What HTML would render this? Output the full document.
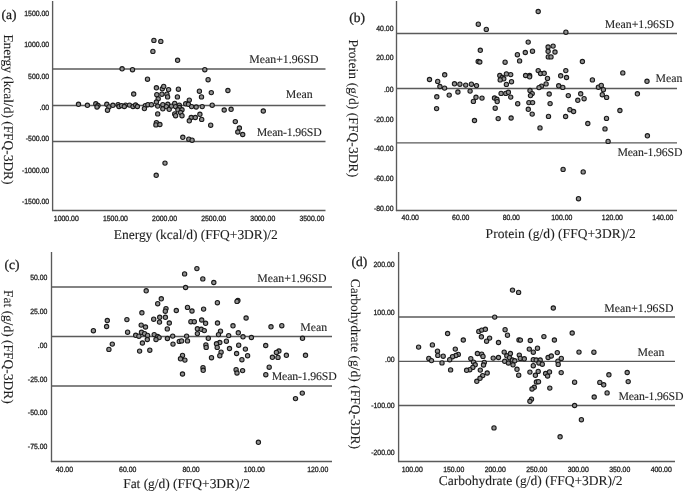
<!DOCTYPE html>
<html><head><meta charset="utf-8"><style>
html,body{margin:0;padding:0;background:#fff;}
svg{display:block;will-change:transform;}
text{text-rendering:geometricPrecision;stroke:#1e1e1e;stroke-width:0.1px;}
text.k{stroke-width:0.3px;}
text.g{stroke-width:0.3px;}
circle{fill:#929292;stroke:#1a1a1a;stroke-width:1.1;}
</style></head><body>
<svg width="685" height="491" viewBox="0 0 685 491">
<rect width="685" height="491" fill="#fff"/>
<line x1="52.6" y1="1" x2="52.6" y2="211.1" stroke="#5a5a5a" stroke-width="1.35"/>
<line x1="52.0" y1="210.5" x2="325.5" y2="210.5" stroke="#5a5a5a" stroke-width="1.35"/>
<line x1="52.6" y1="69.0" x2="325.5" y2="69.0" stroke="#5a5a5a" stroke-width="1.35"/>
<line x1="52.6" y1="105.5" x2="325.5" y2="105.5" stroke="#5a5a5a" stroke-width="1.35"/>
<line x1="52.6" y1="141.5" x2="325.5" y2="141.5" stroke="#5a5a5a" stroke-width="1.35"/>
<text x="249.3" y="63.2" font-size="11.8" font-family='"Liberation Serif", serif' text-anchor="start" fill="#1e1e1e" >Mean+1.96SD</text>
<text x="285.7" y="98.4" font-size="11.8" font-family='"Liberation Serif", serif' text-anchor="start" fill="#1e1e1e" >Mean</text>
<text x="256.7" y="135.7" font-size="11.8" font-family='"Liberation Serif", serif' fill="#1e1e1e" textLength="65.1">Mean-1.96SD</text>
<text x="49.2" y="15.9" font-size="7.5" font-family='"Liberation Sans", sans-serif' text-anchor="end" fill="#1e1e1e"  textLength="24.92" lengthAdjust="spacingAndGlyphs" class="k">1500.00</text>
<text x="49.2" y="47.4" font-size="7.5" font-family='"Liberation Sans", sans-serif' text-anchor="end" fill="#1e1e1e"  textLength="24.92" lengthAdjust="spacingAndGlyphs" class="k">1000.00</text>
<text x="49.2" y="78.69999999999999" font-size="7.5" font-family='"Liberation Sans", sans-serif' text-anchor="end" fill="#1e1e1e"  textLength="21.08" lengthAdjust="spacingAndGlyphs" class="k">500.00</text>
<text x="49.2" y="109.89999999999999" font-size="7.5" font-family='"Liberation Sans", sans-serif' text-anchor="end" fill="#1e1e1e"  textLength="9.58" lengthAdjust="spacingAndGlyphs" class="k">.00</text>
<text x="49.2" y="141.2" font-size="7.5" font-family='"Liberation Sans", sans-serif' text-anchor="end" fill="#1e1e1e"  textLength="23.38" lengthAdjust="spacingAndGlyphs" class="k">-500.00</text>
<text x="49.2" y="172.6" font-size="7.5" font-family='"Liberation Sans", sans-serif' text-anchor="end" fill="#1e1e1e"  textLength="27.21" lengthAdjust="spacingAndGlyphs" class="k">-1000.00</text>
<text x="49.2" y="204.1" font-size="7.5" font-family='"Liberation Sans", sans-serif' text-anchor="end" fill="#1e1e1e"  textLength="27.21" lengthAdjust="spacingAndGlyphs" class="k">-1500.00</text>
<text x="66.3" y="220.70000000000002" font-size="7.5" font-family='"Liberation Sans", sans-serif' text-anchor="middle" fill="#1e1e1e"  textLength="24.92" lengthAdjust="spacingAndGlyphs" class="k">1000.00</text>
<text x="115.42" y="220.70000000000002" font-size="7.5" font-family='"Liberation Sans", sans-serif' text-anchor="middle" fill="#1e1e1e"  textLength="24.92" lengthAdjust="spacingAndGlyphs" class="k">1500.00</text>
<text x="164.54" y="220.70000000000002" font-size="7.5" font-family='"Liberation Sans", sans-serif' text-anchor="middle" fill="#1e1e1e"  textLength="24.92" lengthAdjust="spacingAndGlyphs" class="k">2000.00</text>
<text x="213.66" y="220.70000000000002" font-size="7.5" font-family='"Liberation Sans", sans-serif' text-anchor="middle" fill="#1e1e1e"  textLength="24.92" lengthAdjust="spacingAndGlyphs" class="k">2500.00</text>
<text x="262.78" y="220.70000000000002" font-size="7.5" font-family='"Liberation Sans", sans-serif' text-anchor="middle" fill="#1e1e1e"  textLength="24.92" lengthAdjust="spacingAndGlyphs" class="k">3000.00</text>
<text x="311.9" y="220.70000000000002" font-size="7.5" font-family='"Liberation Sans", sans-serif' text-anchor="middle" fill="#1e1e1e"  textLength="24.92" lengthAdjust="spacingAndGlyphs" class="k">3500.00</text>
<text x="1.5" y="19.2" font-size="13.5" font-family='"Liberation Serif", serif' text-anchor="start" fill="#1e1e1e"  class="g">(a)</text>
<text transform="translate(3.6,34.4) rotate(90)" font-size="13.5" font-family='"Liberation Serif", serif' fill="#1e1e1e" textLength="150.2">Energy (kcal/d) (FFQ-3DR)</text>
<text x="113.8" y="238.6" font-size="13.5" font-family='"Liberation Serif", serif' fill="#1e1e1e" textLength="163.9">Energy (kcal/d) (FFQ+3DR)/2</text>
<line x1="396.5" y1="1" x2="396.5" y2="211.1" stroke="#5a5a5a" stroke-width="1.35"/>
<line x1="395.9" y1="210.5" x2="677" y2="210.5" stroke="#5a5a5a" stroke-width="1.35"/>
<line x1="396.5" y1="33.5" x2="677" y2="33.5" stroke="#5a5a5a" stroke-width="1.35"/>
<line x1="396.5" y1="88.5" x2="677" y2="88.5" stroke="#5a5a5a" stroke-width="1.35"/>
<line x1="396.5" y1="142.9" x2="677" y2="142.9" stroke="#5a5a5a" stroke-width="1.35"/>
<text x="604.8" y="27.9" font-size="11.8" font-family='"Liberation Serif", serif' text-anchor="start" fill="#1e1e1e" >Mean+1.96SD</text>
<text x="655.5" y="82.3" font-size="11.8" font-family='"Liberation Serif", serif' text-anchor="start" fill="#1e1e1e" >Mean</text>
<text x="617.4" y="155.5" font-size="11.8" font-family='"Liberation Serif", serif' fill="#1e1e1e" textLength="65.1">Mean-1.96SD</text>
<text x="393.5" y="31.0" font-size="7.5" font-family='"Liberation Sans", sans-serif' text-anchor="end" fill="#1e1e1e"  textLength="17.25" lengthAdjust="spacingAndGlyphs" class="k">40.00</text>
<text x="393.5" y="60.300000000000004" font-size="7.5" font-family='"Liberation Sans", sans-serif' text-anchor="end" fill="#1e1e1e"  textLength="17.25" lengthAdjust="spacingAndGlyphs" class="k">20.00</text>
<text x="393.5" y="91.69999999999999" font-size="7.5" font-family='"Liberation Sans", sans-serif' text-anchor="end" fill="#1e1e1e"  textLength="9.58" lengthAdjust="spacingAndGlyphs" class="k">.00</text>
<text x="393.5" y="121.6" font-size="7.5" font-family='"Liberation Sans", sans-serif' text-anchor="end" fill="#1e1e1e"  textLength="19.55" lengthAdjust="spacingAndGlyphs" class="k">-20.00</text>
<text x="393.5" y="150.7" font-size="7.5" font-family='"Liberation Sans", sans-serif' text-anchor="end" fill="#1e1e1e"  textLength="19.55" lengthAdjust="spacingAndGlyphs" class="k">-40.00</text>
<text x="393.5" y="181.0" font-size="7.5" font-family='"Liberation Sans", sans-serif' text-anchor="end" fill="#1e1e1e"  textLength="19.55" lengthAdjust="spacingAndGlyphs" class="k">-60.00</text>
<text x="393.5" y="211.0" font-size="7.5" font-family='"Liberation Sans", sans-serif' text-anchor="end" fill="#1e1e1e"  textLength="19.55" lengthAdjust="spacingAndGlyphs" class="k">-80.00</text>
<text x="410.2" y="220.4" font-size="7.5" font-family='"Liberation Sans", sans-serif' text-anchor="middle" fill="#1e1e1e"  textLength="17.25" lengthAdjust="spacingAndGlyphs" class="k">40.00</text>
<text x="460.74" y="220.4" font-size="7.5" font-family='"Liberation Sans", sans-serif' text-anchor="middle" fill="#1e1e1e"  textLength="17.25" lengthAdjust="spacingAndGlyphs" class="k">60.00</text>
<text x="511.28" y="220.4" font-size="7.5" font-family='"Liberation Sans", sans-serif' text-anchor="middle" fill="#1e1e1e"  textLength="17.25" lengthAdjust="spacingAndGlyphs" class="k">80.00</text>
<text x="561.82" y="220.4" font-size="7.5" font-family='"Liberation Sans", sans-serif' text-anchor="middle" fill="#1e1e1e"  textLength="21.08" lengthAdjust="spacingAndGlyphs" class="k">100.00</text>
<text x="612.36" y="220.4" font-size="7.5" font-family='"Liberation Sans", sans-serif' text-anchor="middle" fill="#1e1e1e"  textLength="21.08" lengthAdjust="spacingAndGlyphs" class="k">120.00</text>
<text x="662.9" y="220.4" font-size="7.5" font-family='"Liberation Sans", sans-serif' text-anchor="middle" fill="#1e1e1e"  textLength="21.08" lengthAdjust="spacingAndGlyphs" class="k">140.00</text>
<text x="349.2" y="22.0" font-size="13.5" font-family='"Liberation Serif", serif' text-anchor="start" fill="#1e1e1e"  class="g">(b)</text>
<text transform="translate(349.4,39.6) rotate(90)" font-size="13.5" font-family='"Liberation Serif", serif' fill="#1e1e1e" textLength="137.6">Protein (g/d) (FFQ-3DR)</text>
<text x="485.6" y="237.5" font-size="13.5" font-family='"Liberation Serif", serif' fill="#1e1e1e" textLength="150.2">Protein (g/d) (FFQ+3DR)/2</text>
<line x1="51.5" y1="252" x2="51.5" y2="462.1" stroke="#5a5a5a" stroke-width="1.35"/>
<line x1="50.9" y1="461.5" x2="332" y2="461.5" stroke="#5a5a5a" stroke-width="1.35"/>
<line x1="51.5" y1="287.0" x2="332" y2="287.0" stroke="#5a5a5a" stroke-width="1.35"/>
<line x1="51.5" y1="336.5" x2="332" y2="336.5" stroke="#5a5a5a" stroke-width="1.35"/>
<line x1="51.5" y1="386.0" x2="332" y2="386.0" stroke="#5a5a5a" stroke-width="1.35"/>
<text x="257.3" y="281.5" font-size="11.8" font-family='"Liberation Serif", serif' text-anchor="start" fill="#1e1e1e" >Mean+1.96SD</text>
<text x="300.2" y="330.7" font-size="11.8" font-family='"Liberation Serif", serif' text-anchor="start" fill="#1e1e1e" >Mean</text>
<text x="271.7" y="379.7" font-size="11.8" font-family='"Liberation Serif", serif' fill="#1e1e1e" textLength="65.1">Mean-1.96SD</text>
<text x="47.4" y="280.20000000000005" font-size="7.5" font-family='"Liberation Sans", sans-serif' text-anchor="end" fill="#1e1e1e"  textLength="17.25" lengthAdjust="spacingAndGlyphs" class="k">50.00</text>
<text x="47.4" y="314.3" font-size="7.5" font-family='"Liberation Sans", sans-serif' text-anchor="end" fill="#1e1e1e"  textLength="17.25" lengthAdjust="spacingAndGlyphs" class="k">25.00</text>
<text x="47.4" y="347.70000000000005" font-size="7.5" font-family='"Liberation Sans", sans-serif' text-anchor="end" fill="#1e1e1e"  textLength="9.58" lengthAdjust="spacingAndGlyphs" class="k">.00</text>
<text x="47.4" y="381.70000000000005" font-size="7.5" font-family='"Liberation Sans", sans-serif' text-anchor="end" fill="#1e1e1e"  textLength="19.55" lengthAdjust="spacingAndGlyphs" class="k">-25.00</text>
<text x="47.4" y="414.70000000000005" font-size="7.5" font-family='"Liberation Sans", sans-serif' text-anchor="end" fill="#1e1e1e"  textLength="19.55" lengthAdjust="spacingAndGlyphs" class="k">-50.00</text>
<text x="47.4" y="448.8" font-size="7.5" font-family='"Liberation Sans", sans-serif' text-anchor="end" fill="#1e1e1e"  textLength="19.55" lengthAdjust="spacingAndGlyphs" class="k">-75.00</text>
<text x="64.4" y="472.2" font-size="7.5" font-family='"Liberation Sans", sans-serif' text-anchor="middle" fill="#1e1e1e"  textLength="17.25" lengthAdjust="spacingAndGlyphs" class="k">40.00</text>
<text x="127.73" y="472.2" font-size="7.5" font-family='"Liberation Sans", sans-serif' text-anchor="middle" fill="#1e1e1e"  textLength="17.25" lengthAdjust="spacingAndGlyphs" class="k">60.00</text>
<text x="191.06" y="472.2" font-size="7.5" font-family='"Liberation Sans", sans-serif' text-anchor="middle" fill="#1e1e1e"  textLength="17.25" lengthAdjust="spacingAndGlyphs" class="k">80.00</text>
<text x="254.39" y="472.2" font-size="7.5" font-family='"Liberation Sans", sans-serif' text-anchor="middle" fill="#1e1e1e"  textLength="21.08" lengthAdjust="spacingAndGlyphs" class="k">100.00</text>
<text x="317.72" y="472.2" font-size="7.5" font-family='"Liberation Sans", sans-serif' text-anchor="middle" fill="#1e1e1e"  textLength="21.08" lengthAdjust="spacingAndGlyphs" class="k">120.00</text>
<text x="4.6" y="268.8" font-size="13.5" font-family='"Liberation Serif", serif' text-anchor="start" fill="#1e1e1e"  class="g">(c)</text>
<text transform="translate(4.3,290.1) rotate(90)" font-size="13.5" font-family='"Liberation Serif", serif' fill="#1e1e1e" textLength="113.6">Fat (g/d) (FFQ-3DR)</text>
<text x="123.2" y="487.7" font-size="13.5" font-family='"Liberation Serif", serif' fill="#1e1e1e" textLength="126.7">Fat (g/d) (FFQ+3DR)/2</text>
<line x1="398.6" y1="252" x2="398.6" y2="462.1" stroke="#5a5a5a" stroke-width="1.35"/>
<line x1="398.0" y1="461.5" x2="675" y2="461.5" stroke="#5a5a5a" stroke-width="1.35"/>
<line x1="398.6" y1="317.0" x2="675" y2="317.0" stroke="#5a5a5a" stroke-width="1.35"/>
<line x1="398.6" y1="361.3" x2="675" y2="361.3" stroke="#5a5a5a" stroke-width="1.35"/>
<line x1="398.6" y1="405.5" x2="675" y2="405.5" stroke="#5a5a5a" stroke-width="1.35"/>
<text x="604.3" y="311.9" font-size="11.8" font-family='"Liberation Serif", serif' text-anchor="start" fill="#1e1e1e" >Mean+1.96SD</text>
<text x="637.6" y="355.7" font-size="11.8" font-family='"Liberation Serif", serif' text-anchor="start" fill="#1e1e1e" >Mean</text>
<text x="618.4" y="399.7" font-size="11.8" font-family='"Liberation Serif", serif' fill="#1e1e1e" textLength="65.1">Mean-1.96SD</text>
<text x="394.6" y="266.90000000000003" font-size="7.5" font-family='"Liberation Sans", sans-serif' text-anchor="end" fill="#1e1e1e"  textLength="21.08" lengthAdjust="spacingAndGlyphs" class="k">200.00</text>
<text x="394.6" y="314.5" font-size="7.5" font-family='"Liberation Sans", sans-serif' text-anchor="end" fill="#1e1e1e"  textLength="21.08" lengthAdjust="spacingAndGlyphs" class="k">100.00</text>
<text x="394.6" y="361.5" font-size="7.5" font-family='"Liberation Sans", sans-serif' text-anchor="end" fill="#1e1e1e"  textLength="9.58" lengthAdjust="spacingAndGlyphs" class="k">.00</text>
<text x="394.6" y="408.0" font-size="7.5" font-family='"Liberation Sans", sans-serif' text-anchor="end" fill="#1e1e1e"  textLength="23.38" lengthAdjust="spacingAndGlyphs" class="k">-100.00</text>
<text x="394.6" y="454.90000000000003" font-size="7.5" font-family='"Liberation Sans", sans-serif' text-anchor="end" fill="#1e1e1e"  textLength="23.38" lengthAdjust="spacingAndGlyphs" class="k">-200.00</text>
<text x="412.25" y="472.0" font-size="7.5" font-family='"Liberation Sans", sans-serif' text-anchor="middle" fill="#1e1e1e"  textLength="21.08" lengthAdjust="spacingAndGlyphs" class="k">100.00</text>
<text x="453.75" y="472.0" font-size="7.5" font-family='"Liberation Sans", sans-serif' text-anchor="middle" fill="#1e1e1e"  textLength="21.08" lengthAdjust="spacingAndGlyphs" class="k">150.00</text>
<text x="495.25" y="472.0" font-size="7.5" font-family='"Liberation Sans", sans-serif' text-anchor="middle" fill="#1e1e1e"  textLength="21.08" lengthAdjust="spacingAndGlyphs" class="k">200.00</text>
<text x="536.75" y="472.0" font-size="7.5" font-family='"Liberation Sans", sans-serif' text-anchor="middle" fill="#1e1e1e"  textLength="21.08" lengthAdjust="spacingAndGlyphs" class="k">250.00</text>
<text x="578.25" y="472.0" font-size="7.5" font-family='"Liberation Sans", sans-serif' text-anchor="middle" fill="#1e1e1e"  textLength="21.08" lengthAdjust="spacingAndGlyphs" class="k">300.00</text>
<text x="619.75" y="472.0" font-size="7.5" font-family='"Liberation Sans", sans-serif' text-anchor="middle" fill="#1e1e1e"  textLength="21.08" lengthAdjust="spacingAndGlyphs" class="k">350.00</text>
<text x="661.25" y="472.0" font-size="7.5" font-family='"Liberation Sans", sans-serif' text-anchor="middle" fill="#1e1e1e"  textLength="21.08" lengthAdjust="spacingAndGlyphs" class="k">400.00</text>
<text x="351.6" y="266.2" font-size="13.5" font-family='"Liberation Serif", serif' text-anchor="start" fill="#1e1e1e"  class="g">(d)</text>
<text transform="translate(351,278.7) rotate(90)" font-size="13.5" font-family='"Liberation Serif", serif' fill="#1e1e1e" textLength="170.2">Carbohydrate (g/d) (FFQ-3DR)</text>
<text x="438.8" y="485.3" font-size="13.5" font-family='"Liberation Serif", serif' fill="#1e1e1e" textLength="183.8">Carbohydrate (g/d) (FFQ+3DR)/2</text>
<circle cx="78.5" cy="104.3" r="2.15"/>
<circle cx="87.4" cy="105.3" r="2.15"/>
<circle cx="95.8" cy="103.8" r="2.15"/>
<circle cx="98" cy="105.5" r="2.15"/>
<circle cx="97" cy="107" r="2.15"/>
<circle cx="106.8" cy="104.3" r="2.15"/>
<circle cx="108.9" cy="106.9" r="2.15"/>
<circle cx="107.5" cy="110.2" r="2.15"/>
<circle cx="112.9" cy="105.3" r="2.15"/>
<circle cx="118.1" cy="104.7" r="2.15"/>
<circle cx="119" cy="106.5" r="2.15"/>
<circle cx="121.6" cy="105.6" r="2.15"/>
<circle cx="125.6" cy="105.1" r="2.15"/>
<circle cx="124.3" cy="106.5" r="2.15"/>
<circle cx="129.5" cy="105.1" r="2.15"/>
<circle cx="133" cy="106.5" r="2.15"/>
<circle cx="135.6" cy="105" r="2.15"/>
<circle cx="137.4" cy="106.5" r="2.15"/>
<circle cx="133.7" cy="94" r="2.15"/>
<circle cx="145.3" cy="105.6" r="2.15"/>
<circle cx="144.4" cy="108.6" r="2.15"/>
<circle cx="147.9" cy="104.7" r="2.15"/>
<circle cx="151.4" cy="104.7" r="2.15"/>
<circle cx="156.4" cy="87.8" r="2.15"/>
<circle cx="162.3" cy="88.7" r="2.15"/>
<circle cx="163.7" cy="86.4" r="2.15"/>
<circle cx="168.6" cy="89.6" r="2.15"/>
<circle cx="178.4" cy="89.2" r="2.15"/>
<circle cx="199.4" cy="91.2" r="2.15"/>
<circle cx="211.3" cy="92.6" r="2.15"/>
<circle cx="156.8" cy="94.7" r="2.15"/>
<circle cx="161.9" cy="94.2" r="2.15"/>
<circle cx="166.9" cy="94.2" r="2.15"/>
<circle cx="167.6" cy="96.9" r="2.15"/>
<circle cx="177.4" cy="96.9" r="2.15"/>
<circle cx="158.2" cy="98.8" r="2.15"/>
<circle cx="156.4" cy="102" r="2.15"/>
<circle cx="201.5" cy="96.9" r="2.15"/>
<circle cx="189.3" cy="100.1" r="2.15"/>
<circle cx="157.7" cy="106.1" r="2.15"/>
<circle cx="162.8" cy="104.7" r="2.15"/>
<circle cx="162.8" cy="108.8" r="2.15"/>
<circle cx="167.8" cy="104.3" r="2.15"/>
<circle cx="166.4" cy="106.6" r="2.15"/>
<circle cx="169.2" cy="109.3" r="2.15"/>
<circle cx="171.5" cy="106.1" r="2.15"/>
<circle cx="174.7" cy="103.4" r="2.15"/>
<circle cx="175.6" cy="106.6" r="2.15"/>
<circle cx="179.3" cy="105.2" r="2.15"/>
<circle cx="179.5" cy="107.5" r="2.15"/>
<circle cx="177.9" cy="109.8" r="2.15"/>
<circle cx="182" cy="109.8" r="2.15"/>
<circle cx="180.6" cy="112.5" r="2.15"/>
<circle cx="174.7" cy="113.9" r="2.15"/>
<circle cx="175.6" cy="115.7" r="2.15"/>
<circle cx="182" cy="115.7" r="2.15"/>
<circle cx="185.7" cy="103.8" r="2.15"/>
<circle cx="188.4" cy="104.3" r="2.15"/>
<circle cx="191.6" cy="106.6" r="2.15"/>
<circle cx="196.2" cy="107" r="2.15"/>
<circle cx="202.2" cy="106.6" r="2.15"/>
<circle cx="212.2" cy="105.2" r="2.15"/>
<circle cx="157.7" cy="113.9" r="2.15"/>
<circle cx="191.2" cy="117.5" r="2.15"/>
<circle cx="195.3" cy="117.5" r="2.15"/>
<circle cx="199.9" cy="114.3" r="2.15"/>
<circle cx="201.7" cy="119.4" r="2.15"/>
<circle cx="189.3" cy="120.8" r="2.15"/>
<circle cx="156.4" cy="122.7" r="2.15"/>
<circle cx="155.9" cy="124.9" r="2.15"/>
<circle cx="159.9" cy="124.5" r="2.15"/>
<circle cx="210.7" cy="125.2" r="2.15"/>
<circle cx="153.9" cy="40.4" r="2.15"/>
<circle cx="160.8" cy="41.4" r="2.15"/>
<circle cx="152.9" cy="51.4" r="2.15"/>
<circle cx="122.1" cy="68.8" r="2.15"/>
<circle cx="132.5" cy="69.7" r="2.15"/>
<circle cx="147.5" cy="79.2" r="2.15"/>
<circle cx="177.6" cy="60.3" r="2.15"/>
<circle cx="204.8" cy="69.7" r="2.15"/>
<circle cx="208.1" cy="79.7" r="2.15"/>
<circle cx="227.9" cy="90.5" r="2.15"/>
<circle cx="224.2" cy="110" r="2.15"/>
<circle cx="231.1" cy="109.3" r="2.15"/>
<circle cx="263.3" cy="111" r="2.15"/>
<circle cx="235.3" cy="121.6" r="2.15"/>
<circle cx="239.4" cy="128" r="2.15"/>
<circle cx="237.8" cy="132" r="2.15"/>
<circle cx="242.7" cy="134.5" r="2.15"/>
<circle cx="182.8" cy="137.3" r="2.15"/>
<circle cx="188.8" cy="139.2" r="2.15"/>
<circle cx="192.1" cy="140.2" r="2.15"/>
<circle cx="165" cy="163.1" r="2.15"/>
<circle cx="156.2" cy="175.3" r="2.15"/>
<circle cx="538.2" cy="11.5" r="2.15"/>
<circle cx="478.3" cy="24.2" r="2.15"/>
<circle cx="486.3" cy="29.4" r="2.15"/>
<circle cx="528.2" cy="42.1" r="2.15"/>
<circle cx="480.3" cy="50.3" r="2.15"/>
<circle cx="548.1" cy="47" r="2.15"/>
<circle cx="553.1" cy="46.1" r="2.15"/>
<circle cx="548.1" cy="51.3" r="2.15"/>
<circle cx="555" cy="52" r="2.15"/>
<circle cx="532.5" cy="51.2" r="2.15"/>
<circle cx="525.3" cy="52.5" r="2.15"/>
<circle cx="517.4" cy="54.7" r="2.15"/>
<circle cx="519.6" cy="60.9" r="2.15"/>
<circle cx="548.3" cy="56.9" r="2.15"/>
<circle cx="551" cy="56.9" r="2.15"/>
<circle cx="478.2" cy="61.5" r="2.15"/>
<circle cx="479.8" cy="62" r="2.15"/>
<circle cx="505.1" cy="62.2" r="2.15"/>
<circle cx="565.9" cy="32.2" r="2.15"/>
<circle cx="582.4" cy="61.5" r="2.15"/>
<circle cx="444.7" cy="74.8" r="2.15"/>
<circle cx="429.5" cy="79.5" r="2.15"/>
<circle cx="437.7" cy="81.4" r="2.15"/>
<circle cx="439.9" cy="86.5" r="2.15"/>
<circle cx="444.6" cy="88.1" r="2.15"/>
<circle cx="454.5" cy="83.8" r="2.15"/>
<circle cx="459.9" cy="84.2" r="2.15"/>
<circle cx="465.7" cy="85.1" r="2.15"/>
<circle cx="471.4" cy="84.2" r="2.15"/>
<circle cx="476.5" cy="85.6" r="2.15"/>
<circle cx="457.9" cy="92" r="2.15"/>
<circle cx="470.1" cy="91.1" r="2.15"/>
<circle cx="449.2" cy="95.1" r="2.15"/>
<circle cx="436.8" cy="96.8" r="2.15"/>
<circle cx="476" cy="97.3" r="2.15"/>
<circle cx="482" cy="98.1" r="2.15"/>
<circle cx="473.4" cy="101.4" r="2.15"/>
<circle cx="436.6" cy="108.6" r="2.15"/>
<circle cx="474.5" cy="120.5" r="2.15"/>
<circle cx="499.8" cy="75.5" r="2.15"/>
<circle cx="506.4" cy="73.9" r="2.15"/>
<circle cx="510.7" cy="74.6" r="2.15"/>
<circle cx="502.2" cy="77.5" r="2.15"/>
<circle cx="503.8" cy="78.8" r="2.15"/>
<circle cx="500.2" cy="79.9" r="2.15"/>
<circle cx="511.5" cy="81.7" r="2.15"/>
<circle cx="506.4" cy="84.4" r="2.15"/>
<circle cx="525.6" cy="75.5" r="2.15"/>
<circle cx="529.6" cy="75.5" r="2.15"/>
<circle cx="529.6" cy="76.8" r="2.15"/>
<circle cx="538.2" cy="70.6" r="2.15"/>
<circle cx="540.6" cy="73.5" r="2.15"/>
<circle cx="544.2" cy="73.3" r="2.15"/>
<circle cx="547.5" cy="78.4" r="2.15"/>
<circle cx="546.1" cy="83.9" r="2.15"/>
<circle cx="541.5" cy="86.1" r="2.15"/>
<circle cx="539" cy="87.6" r="2.15"/>
<circle cx="558.7" cy="85.8" r="2.15"/>
<circle cx="562.8" cy="87.4" r="2.15"/>
<circle cx="560.7" cy="75.8" r="2.15"/>
<circle cx="565.8" cy="70.6" r="2.15"/>
<circle cx="566.5" cy="77.5" r="2.15"/>
<circle cx="501.1" cy="93.4" r="2.15"/>
<circle cx="505.8" cy="93.4" r="2.15"/>
<circle cx="508.4" cy="92.3" r="2.15"/>
<circle cx="510.7" cy="97.1" r="2.15"/>
<circle cx="494.5" cy="98" r="2.15"/>
<circle cx="496.9" cy="99.3" r="2.15"/>
<circle cx="497.2" cy="101.6" r="2.15"/>
<circle cx="495.2" cy="108.2" r="2.15"/>
<circle cx="517.7" cy="103.7" r="2.15"/>
<circle cx="530" cy="90.5" r="2.15"/>
<circle cx="532.2" cy="93.6" r="2.15"/>
<circle cx="530.5" cy="95.6" r="2.15"/>
<circle cx="528.9" cy="102.6" r="2.15"/>
<circle cx="532.6" cy="102.6" r="2.15"/>
<circle cx="528.3" cy="109.3" r="2.15"/>
<circle cx="532.2" cy="114.1" r="2.15"/>
<circle cx="549.2" cy="94" r="2.15"/>
<circle cx="550.1" cy="103.6" r="2.15"/>
<circle cx="548.5" cy="116.4" r="2.15"/>
<circle cx="498.2" cy="118.6" r="2.15"/>
<circle cx="511.1" cy="118" r="2.15"/>
<circle cx="565.6" cy="116.5" r="2.15"/>
<circle cx="592.4" cy="79.9" r="2.15"/>
<circle cx="622.8" cy="72.9" r="2.15"/>
<circle cx="647" cy="81.3" r="2.15"/>
<circle cx="598.4" cy="87.2" r="2.15"/>
<circle cx="601.3" cy="85.4" r="2.15"/>
<circle cx="603.4" cy="89.7" r="2.15"/>
<circle cx="580.7" cy="93.8" r="2.15"/>
<circle cx="568.3" cy="95.6" r="2.15"/>
<circle cx="577.8" cy="100.3" r="2.15"/>
<circle cx="584.1" cy="98.7" r="2.15"/>
<circle cx="602.3" cy="94.7" r="2.15"/>
<circle cx="606.6" cy="97.4" r="2.15"/>
<circle cx="637.4" cy="93.8" r="2.15"/>
<circle cx="569.9" cy="109.7" r="2.15"/>
<circle cx="573.6" cy="111.5" r="2.15"/>
<circle cx="619.9" cy="110.5" r="2.15"/>
<circle cx="606.5" cy="118.4" r="2.15"/>
<circle cx="540" cy="127.9" r="2.15"/>
<circle cx="587.8" cy="123.5" r="2.15"/>
<circle cx="605" cy="128.9" r="2.15"/>
<circle cx="608.1" cy="141.4" r="2.15"/>
<circle cx="647.4" cy="135.8" r="2.15"/>
<circle cx="563.1" cy="169.4" r="2.15"/>
<circle cx="583.2" cy="171.9" r="2.15"/>
<circle cx="578.5" cy="198.7" r="2.15"/>
<circle cx="93.4" cy="330.7" r="2.15"/>
<circle cx="107.3" cy="320.5" r="2.15"/>
<circle cx="106.6" cy="326.5" r="2.15"/>
<circle cx="126.9" cy="319.6" r="2.15"/>
<circle cx="127.6" cy="332.2" r="2.15"/>
<circle cx="112.3" cy="344.1" r="2.15"/>
<circle cx="108.9" cy="349.4" r="2.15"/>
<circle cx="196.9" cy="268.6" r="2.15"/>
<circle cx="184.6" cy="273.9" r="2.15"/>
<circle cx="185.6" cy="287.5" r="2.15"/>
<circle cx="146.2" cy="290.8" r="2.15"/>
<circle cx="161.3" cy="298.8" r="2.15"/>
<circle cx="157.7" cy="303.7" r="2.15"/>
<circle cx="166" cy="308.6" r="2.15"/>
<circle cx="165.3" cy="311.2" r="2.15"/>
<circle cx="176.3" cy="310.5" r="2.15"/>
<circle cx="187.5" cy="307.4" r="2.15"/>
<circle cx="192" cy="311" r="2.15"/>
<circle cx="141.9" cy="312.8" r="2.15"/>
<circle cx="153.7" cy="319.2" r="2.15"/>
<circle cx="159.7" cy="317.3" r="2.15"/>
<circle cx="165.4" cy="317.3" r="2.15"/>
<circle cx="159.5" cy="322.1" r="2.15"/>
<circle cx="169.3" cy="323" r="2.15"/>
<circle cx="141.2" cy="325.1" r="2.15"/>
<circle cx="190.9" cy="321.7" r="2.15"/>
<circle cx="194.3" cy="321.7" r="2.15"/>
<circle cx="145.5" cy="327" r="2.15"/>
<circle cx="167.3" cy="328.9" r="2.15"/>
<circle cx="197.4" cy="328.8" r="2.15"/>
<circle cx="197.4" cy="333.6" r="2.15"/>
<circle cx="135.7" cy="335.3" r="2.15"/>
<circle cx="138.9" cy="336.2" r="2.15"/>
<circle cx="141.5" cy="332.3" r="2.15"/>
<circle cx="144.6" cy="333.7" r="2.15"/>
<circle cx="147.6" cy="335.4" r="2.15"/>
<circle cx="154.2" cy="334.6" r="2.15"/>
<circle cx="157.7" cy="336.5" r="2.15"/>
<circle cx="159.1" cy="337.6" r="2.15"/>
<circle cx="156" cy="339.5" r="2.15"/>
<circle cx="147.3" cy="339.5" r="2.15"/>
<circle cx="142.4" cy="343" r="2.15"/>
<circle cx="167.4" cy="338.5" r="2.15"/>
<circle cx="172.7" cy="336.1" r="2.15"/>
<circle cx="173" cy="344.1" r="2.15"/>
<circle cx="179.3" cy="341.4" r="2.15"/>
<circle cx="181.6" cy="340.9" r="2.15"/>
<circle cx="186.6" cy="336.1" r="2.15"/>
<circle cx="187.5" cy="340.9" r="2.15"/>
<circle cx="139.6" cy="351.1" r="2.15"/>
<circle cx="149.8" cy="350.2" r="2.15"/>
<circle cx="182.5" cy="355.4" r="2.15"/>
<circle cx="180.5" cy="358.8" r="2.15"/>
<circle cx="184.9" cy="360.1" r="2.15"/>
<circle cx="182.5" cy="374" r="2.15"/>
<circle cx="202.8" cy="278.9" r="2.15"/>
<circle cx="213.8" cy="282.5" r="2.15"/>
<circle cx="217.4" cy="302.7" r="2.15"/>
<circle cx="237.9" cy="300.5" r="2.15"/>
<circle cx="237" cy="301.4" r="2.15"/>
<circle cx="203.6" cy="309.1" r="2.15"/>
<circle cx="201.7" cy="320" r="2.15"/>
<circle cx="205.6" cy="323.3" r="2.15"/>
<circle cx="217.5" cy="323" r="2.15"/>
<circle cx="233" cy="325.8" r="2.15"/>
<circle cx="246.1" cy="318" r="2.15"/>
<circle cx="201.3" cy="329.3" r="2.15"/>
<circle cx="204.3" cy="330.6" r="2.15"/>
<circle cx="220.5" cy="331.2" r="2.15"/>
<circle cx="218.5" cy="334.6" r="2.15"/>
<circle cx="208.3" cy="338.3" r="2.15"/>
<circle cx="228.7" cy="335.6" r="2.15"/>
<circle cx="238.3" cy="332.8" r="2.15"/>
<circle cx="243" cy="336.8" r="2.15"/>
<circle cx="251.4" cy="337.5" r="2.15"/>
<circle cx="226.4" cy="341.2" r="2.15"/>
<circle cx="219.8" cy="342.5" r="2.15"/>
<circle cx="216.5" cy="343.8" r="2.15"/>
<circle cx="217.2" cy="347.4" r="2.15"/>
<circle cx="205.9" cy="344.9" r="2.15"/>
<circle cx="206.2" cy="347.4" r="2.15"/>
<circle cx="229.5" cy="348.5" r="2.15"/>
<circle cx="238.7" cy="345.2" r="2.15"/>
<circle cx="245.4" cy="349.1" r="2.15"/>
<circle cx="221.1" cy="352.2" r="2.15"/>
<circle cx="219.8" cy="355.7" r="2.15"/>
<circle cx="236.6" cy="353.5" r="2.15"/>
<circle cx="247.6" cy="355.7" r="2.15"/>
<circle cx="241.9" cy="359.7" r="2.15"/>
<circle cx="211.5" cy="357.7" r="2.15"/>
<circle cx="203" cy="367.7" r="2.15"/>
<circle cx="203.2" cy="370.3" r="2.15"/>
<circle cx="236.1" cy="369.7" r="2.15"/>
<circle cx="237" cy="373" r="2.15"/>
<circle cx="242.6" cy="370.6" r="2.15"/>
<circle cx="271" cy="326.8" r="2.15"/>
<circle cx="281.8" cy="325.7" r="2.15"/>
<circle cx="302.5" cy="338.3" r="2.15"/>
<circle cx="265.7" cy="345.5" r="2.15"/>
<circle cx="278.9" cy="351" r="2.15"/>
<circle cx="276.4" cy="352.4" r="2.15"/>
<circle cx="272.4" cy="357.3" r="2.15"/>
<circle cx="278" cy="357.4" r="2.15"/>
<circle cx="286.4" cy="355.3" r="2.15"/>
<circle cx="305.5" cy="355.3" r="2.15"/>
<circle cx="269.2" cy="367.2" r="2.15"/>
<circle cx="265.8" cy="374.7" r="2.15"/>
<circle cx="302.3" cy="393.1" r="2.15"/>
<circle cx="295.5" cy="398.6" r="2.15"/>
<circle cx="258.4" cy="442.3" r="2.15"/>
<circle cx="447.6" cy="333.5" r="2.15"/>
<circle cx="418.6" cy="347.1" r="2.15"/>
<circle cx="432.4" cy="344.9" r="2.15"/>
<circle cx="463.3" cy="340" r="2.15"/>
<circle cx="437.5" cy="351.2" r="2.15"/>
<circle cx="437.8" cy="355.4" r="2.15"/>
<circle cx="443.2" cy="356.2" r="2.15"/>
<circle cx="455.3" cy="349.1" r="2.15"/>
<circle cx="458.3" cy="354.4" r="2.15"/>
<circle cx="455.9" cy="355.5" r="2.15"/>
<circle cx="452.5" cy="356.7" r="2.15"/>
<circle cx="449.7" cy="359.7" r="2.15"/>
<circle cx="428.8" cy="358.4" r="2.15"/>
<circle cx="431.5" cy="360.6" r="2.15"/>
<circle cx="442" cy="362.9" r="2.15"/>
<circle cx="450.6" cy="369.9" r="2.15"/>
<circle cx="470.8" cy="358.6" r="2.15"/>
<circle cx="473.5" cy="362.1" r="2.15"/>
<circle cx="475.2" cy="364.8" r="2.15"/>
<circle cx="472.8" cy="367.4" r="2.15"/>
<circle cx="469.8" cy="369.7" r="2.15"/>
<circle cx="466.6" cy="370.3" r="2.15"/>
<circle cx="477.4" cy="353.5" r="2.15"/>
<circle cx="478.8" cy="331.4" r="2.15"/>
<circle cx="481.7" cy="330.1" r="2.15"/>
<circle cx="485.4" cy="329.3" r="2.15"/>
<circle cx="481.4" cy="336.8" r="2.15"/>
<circle cx="476.8" cy="381.3" r="2.15"/>
<circle cx="489.6" cy="338.1" r="2.15"/>
<circle cx="486.6" cy="341.2" r="2.15"/>
<circle cx="498.5" cy="342.5" r="2.15"/>
<circle cx="505.1" cy="329.7" r="2.15"/>
<circle cx="507.5" cy="335.2" r="2.15"/>
<circle cx="519" cy="339.9" r="2.15"/>
<circle cx="520.4" cy="340.1" r="2.15"/>
<circle cx="530.3" cy="340.5" r="2.15"/>
<circle cx="543.9" cy="336.6" r="2.15"/>
<circle cx="529.3" cy="349.1" r="2.15"/>
<circle cx="537.5" cy="348.2" r="2.15"/>
<circle cx="533.3" cy="352.2" r="2.15"/>
<circle cx="481.7" cy="354.2" r="2.15"/>
<circle cx="483" cy="356.4" r="2.15"/>
<circle cx="493.2" cy="358.1" r="2.15"/>
<circle cx="498.5" cy="357.5" r="2.15"/>
<circle cx="484.3" cy="362.4" r="2.15"/>
<circle cx="483.5" cy="365" r="2.15"/>
<circle cx="504.2" cy="352.1" r="2.15"/>
<circle cx="506.8" cy="355.8" r="2.15"/>
<circle cx="510.4" cy="353.5" r="2.15"/>
<circle cx="509.5" cy="357.7" r="2.15"/>
<circle cx="504.7" cy="361.3" r="2.15"/>
<circle cx="508.4" cy="363" r="2.15"/>
<circle cx="512.4" cy="360" r="2.15"/>
<circle cx="514.8" cy="360.8" r="2.15"/>
<circle cx="513" cy="364.8" r="2.15"/>
<circle cx="519.3" cy="355.1" r="2.15"/>
<circle cx="520.3" cy="358.4" r="2.15"/>
<circle cx="524.3" cy="358.8" r="2.15"/>
<circle cx="517" cy="369.3" r="2.15"/>
<circle cx="518.7" cy="375.2" r="2.15"/>
<circle cx="533.3" cy="359.7" r="2.15"/>
<circle cx="536.2" cy="360" r="2.15"/>
<circle cx="540.2" cy="360" r="2.15"/>
<circle cx="538.9" cy="363" r="2.15"/>
<circle cx="542.3" cy="364.2" r="2.15"/>
<circle cx="533.3" cy="365.7" r="2.15"/>
<circle cx="529.9" cy="372.1" r="2.15"/>
<circle cx="538.2" cy="371.4" r="2.15"/>
<circle cx="535.4" cy="375.3" r="2.15"/>
<circle cx="536.4" cy="382" r="2.15"/>
<circle cx="538.5" cy="381.7" r="2.15"/>
<circle cx="548.1" cy="357.5" r="2.15"/>
<circle cx="545.6" cy="373.5" r="2.15"/>
<circle cx="547.6" cy="376" r="2.15"/>
<circle cx="480.3" cy="370.1" r="2.15"/>
<circle cx="487.2" cy="373" r="2.15"/>
<circle cx="482.7" cy="375.6" r="2.15"/>
<circle cx="480" cy="378.3" r="2.15"/>
<circle cx="554.4" cy="340" r="2.15"/>
<circle cx="572.2" cy="333" r="2.15"/>
<circle cx="557.3" cy="352.6" r="2.15"/>
<circle cx="551.3" cy="356" r="2.15"/>
<circle cx="561.3" cy="358.4" r="2.15"/>
<circle cx="557.9" cy="361.2" r="2.15"/>
<circle cx="558.2" cy="364.4" r="2.15"/>
<circle cx="579" cy="352.1" r="2.15"/>
<circle cx="593.9" cy="352.2" r="2.15"/>
<circle cx="549.5" cy="371.9" r="2.15"/>
<circle cx="561.2" cy="372.6" r="2.15"/>
<circle cx="608.9" cy="374.8" r="2.15"/>
<circle cx="574.6" cy="382.2" r="2.15"/>
<circle cx="599.8" cy="382.4" r="2.15"/>
<circle cx="603.7" cy="384.8" r="2.15"/>
<circle cx="627.2" cy="372.5" r="2.15"/>
<circle cx="628.2" cy="381.6" r="2.15"/>
<circle cx="607.1" cy="392.9" r="2.15"/>
<circle cx="594.2" cy="397" r="2.15"/>
<circle cx="512.5" cy="290.1" r="2.15"/>
<circle cx="518.6" cy="292.4" r="2.15"/>
<circle cx="553.3" cy="308" r="2.15"/>
<circle cx="494.7" cy="317.1" r="2.15"/>
<circle cx="534.3" cy="387.3" r="2.15"/>
<circle cx="532" cy="389" r="2.15"/>
<circle cx="549.8" cy="388.1" r="2.15"/>
<circle cx="531.5" cy="399.2" r="2.15"/>
<circle cx="529.9" cy="401.3" r="2.15"/>
<circle cx="494" cy="427.9" r="2.15"/>
<circle cx="560.1" cy="436.8" r="2.15"/>
<circle cx="574.6" cy="405.5" r="2.15"/>
<circle cx="581.4" cy="419.7" r="2.15"/>
</svg>
</body></html>
